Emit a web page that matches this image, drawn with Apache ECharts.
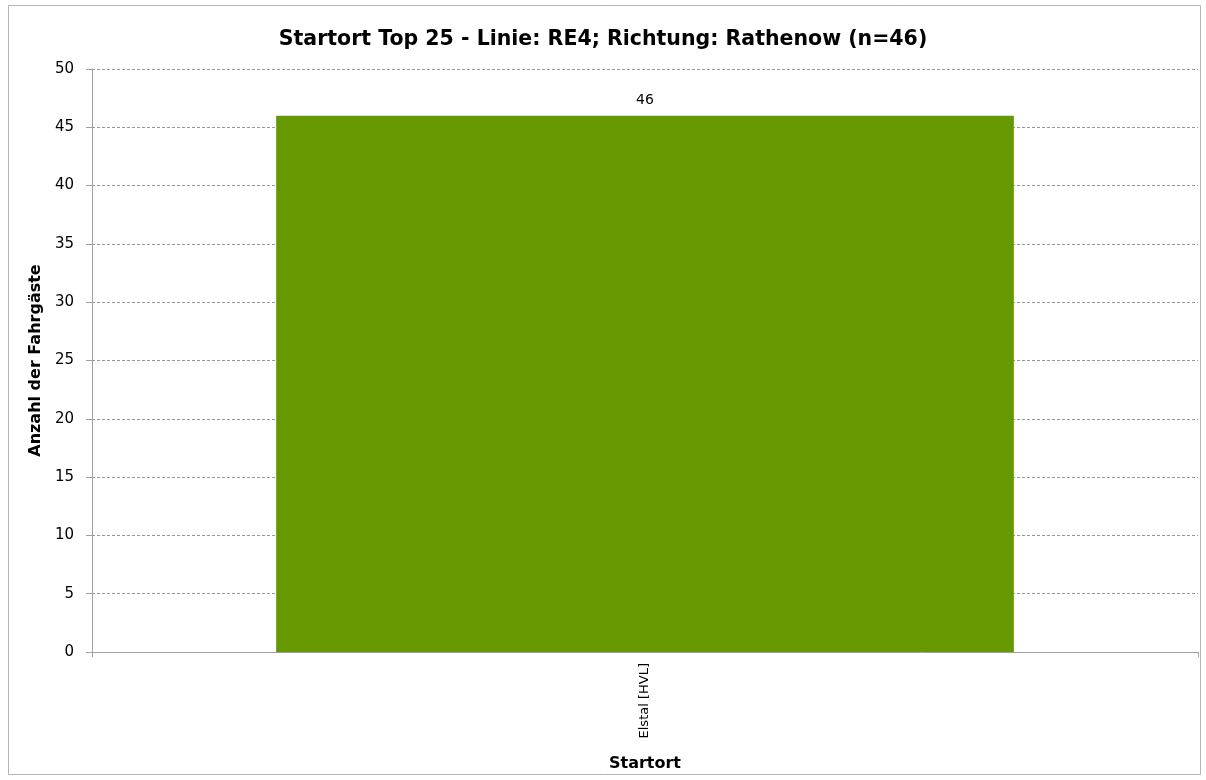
<!DOCTYPE html>
<html><head><meta charset="utf-8">
<script src="https://cdn.jsdelivr.net/npm/echarts@6/dist/echarts.min.js"></script>
<style>html,body{margin:0;padding:0;background:#fff}#c{width:1206px;height:780px}</style>
</head><body><div id="c"></div>
<script>
const titleText = 'Startort Top 25 - Linie: RE4; Richtung: Rathenow (n=46)';
const categories = ['Elstal [HVL]'];
const values = [46];
const yMin = 0, yMax = 50, yInterval = 5;
const FONT = 'DejaVu Sans';
const chart = echarts.init(document.getElementById('c'));
chart.setOption({
  animation: false,
  backgroundColor: '#fff',
  graphic: [{type:'rect', shape:{x:8.5,y:5.5,width:1192,height:769}, style:{fill:'none', stroke:'#b5b5b5', lineWidth:1}, silent:true}],
  title: {text: titleText, left: 'center', top: 24, textStyle:{fontFamily:FONT, fontSize:20.5, fontWeight:'bold', color:'#000'}},
  grid: {left: 92, right: 8, top: 69, bottom: 128},
  xAxis: {type:'category', data: categories, name:'Startort', nameLocation:'middle', nameGap:104,
    nameTextStyle:{fontFamily:FONT, fontSize:16, fontWeight:'bold', color:'#000'},
    axisLine:{lineStyle:{color:'#a0a0a0'}}, axisTick:{show:true, length:5, lineStyle:{color:'#a0a0a0'}},
    axisLabel:{rotate:90, fontFamily:FONT, fontSize:13, color:'#000', margin:11}},
  yAxis: {type:'value', min:yMin, max:yMax, interval:yInterval, name:'Anzahl der Fahrgäste', nameLocation:'middle', nameGap:43,
    nameTextStyle:{fontFamily:FONT, fontSize:16, fontWeight:'bold', color:'#000'},
    axisLine:{show:true, lineStyle:{color:'#a0a0a0'}}, axisTick:{show:true, length:6, lineStyle:{color:'#a0a0a0'}},
    axisLabel:{fontFamily:FONT, fontSize:15, color:'#000', margin:18},
    splitLine:{lineStyle:{color:'#9a9a9a', type:[3,2], width:1}}},
  series: [{type:'bar', data: values, barWidth:'66.7%', itemStyle:{color:'#669900'},
    label:{show:true, position:'top', distance:8, fontFamily:FONT, fontSize:14, color:'#000'}}]
});
</script></body></html>
